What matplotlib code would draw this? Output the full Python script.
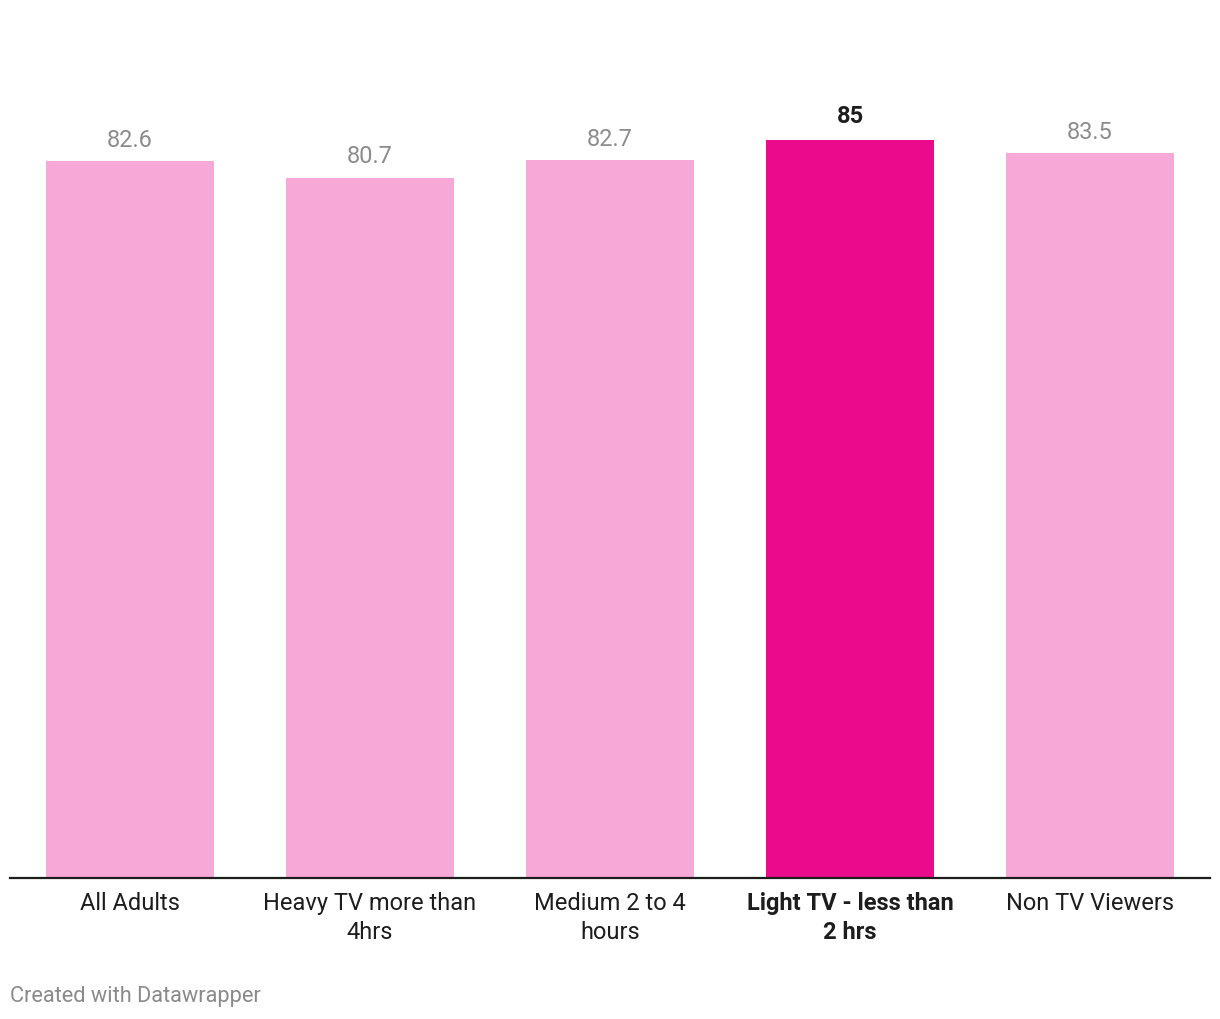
import numpy as np
import matplotlib.pyplot as plt

plt.rcParams['font.family'] = ['Roboto', 'DejaVu Sans']

categorias = ['All Adults', 'Heavy TV more than\n4hrs', 'Medium 2 to 4\nhours',
              'Light TV - less than\n2 hrs', 'Non TV Viewers']
valores = [82.6, 80.7, 82.7, 85.0, 83.5]
rotulos = ['82.6', '80.7', '82.7', '85', '83.5']
destaque = 3

cor_clara = '#f7a8d7'
cor_forte = '#ec0a8c'

fig = plt.figure(figsize=(12.2, 10.2), dpi=100)
ax = fig.add_axes([10 / 1220, 141 / 1020, 1200 / 1220, 868 / 1020])

x = np.arange(len(categorias))
cores = [cor_forte if i == destaque else cor_clara for i in x]
ax.bar(x, valores, width=0.7, color=cores, zorder=2)

for i, (v, r) in enumerate(zip(valores, rotulos)):
    if i == destaque:
        ax.annotate(r, (i, v), xytext=(0, 9.5), textcoords='offset points',
                    ha='center', va='bottom', fontsize=17, fontweight='bold', color='#1d1d1d')
    else:
        ax.annotate(r, (i, v), xytext=(0, 7.5), textcoords='offset points',
                    ha='center', va='bottom', fontsize=17, color='#8c8c8c')

ax.set_xlim(-0.5, len(categorias) - 0.5)
ax.set_ylim(0, 100)
ax.set_yticks([])
ax.set_xticks(x)
ax.set_xticklabels(categorias, fontsize=17, color='#1d1d1d', linespacing=1.3)
for i, lbl in enumerate(ax.get_xticklabels()):
    if i == destaque:
        lbl.set_fontweight('bold')
ax.tick_params(axis='x', length=0, pad=9.5)

for s in ['top', 'left', 'right']:
    ax.spines[s].set_visible(False)
ax.spines['bottom'].set_color('#1d1d1d')
ax.spines['bottom'].set_linewidth(1.6)

fig.text(10 / 1220, 1 - 997 / 1020, 'Created with Datawrapper', fontsize=15.7,
         color='#8a8a8a', ha='left', va='center')

fig.savefig('out.png', dpi=100)
